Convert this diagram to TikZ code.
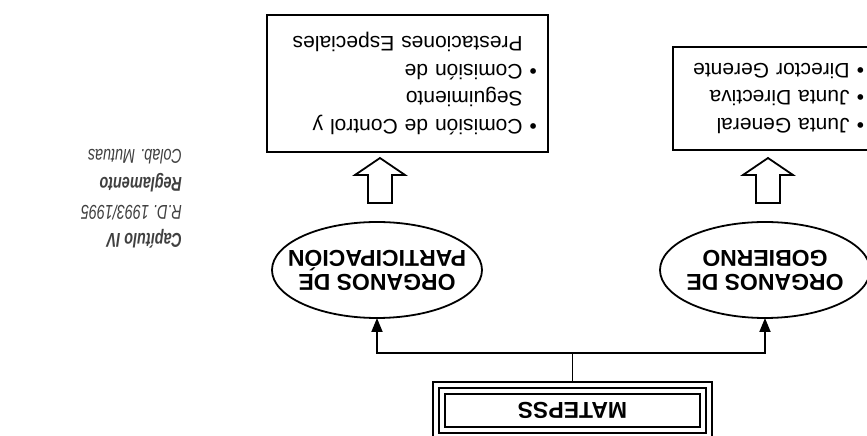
\documentclass[tikz,border=0pt]{standalone}
\usepackage{fontspec}
\setmainfont{Liberation Sans}
\newfontfamily\sidefont[FakeStretch=0.72]{Liberation Sans}
\usetikzlibrary{shapes.geometric,arrows.meta}
\definecolor{sidegray}{HTML}{404040}
\begin{document}
\begin{tikzpicture}[x=1pt,y=-1pt,
  every node/.style={inner sep=0pt, outer sep=0pt},
  conn/.style={line width=1.8pt, -{Triangle[length=14pt,width=11pt]}},
  plainline/.style={line width=1.8pt},
  organ/.style={ellipse, draw, line width=1.8pt, minimum width=210pt, minimum height=96pt, inner xsep=-16pt, inner ysep=0pt, align=center, font=\fontsize{23}{24}\selectfont\bfseries},
  listbox/.style={draw, line width=2pt, align=left, font=\fontsize{21}{27.5}\selectfont},
  hollow/.style={draw, line width=1.8pt, fill=white},
  sidetext/.style={align=left, anchor=west, text=sidegray, font=\sidefont\fontsize{20}{28}\selectfont}
]
\begin{scope}[rotate=180, transform shape]
\useasboundingbox (0,0) rectangle (867,436);
\fill[white] (0,0) rectangle (867,436);
\clip (0,0) rectangle (867,436);
% MATEPSS box
\node[draw, line width=1.2pt, minimum width=279pt, minimum height=57pt, font=\fontsize{23}{24}\selectfont\bfseries] (mat) at (294.5,25.5) {MATEPSS};
\draw[line width=2.5pt] (161,3) rectangle (428,48);
\draw[line width=1.2pt] (167,9) rectangle (422,42);
% organs
\node[organ] (e1) at (490,166) {ORGANOS DE\\PARTICIPACIÓN};
\node[organ] (e2) at (102,166) {ORGANOS DE\\GOBIERNO};
% connectors
\coordinate (j) at (294.5,83);
\draw[plainline] (mat.south) -- (j);
\draw[conn] (j) -| (e1.north);
\draw[conn] (j) -| (e2.north);
% hollow arrows
\foreach \u in {99,487} {
  \draw[hollow] ({\u-12},233) -- ({\u+12},233) -- ({\u+12},261) -- ({\u+25},261) -- (\u,278) -- ({\u-25},261) -- ({\u-12},261) -- cycle;
}
% list boxes
\node[listbox, text width=183pt, minimum height=103pt, inner xsep=8pt] (gob) at (94.5,337.5)
  {\textbullet\ Junta General\\ \textbullet\ Junta Directiva\\ \textbullet\ Director Gerente};
\node[listbox, text width=259pt, minimum height=137pt, inner xsep=11pt] (par) at (459.5,352.5)
  {\textbullet\ Comisión de Control y\\ \hphantom{\textbullet\ }Seguimiento\\ \textbullet\ Comisión de\\ \hphantom{\textbullet\ }Prestaciones Especiales};
% side text
\node[sidetext] (side) at (685,237)
  {\textbf{\textit{Capítulo IV}}\\ \textit{R.D. 1993/1995}\\ \textbf{\textit{Reglamento}}\\ \textit{Colab. Mutuas}};
\end{scope}
\end{tikzpicture}
\end{document}
